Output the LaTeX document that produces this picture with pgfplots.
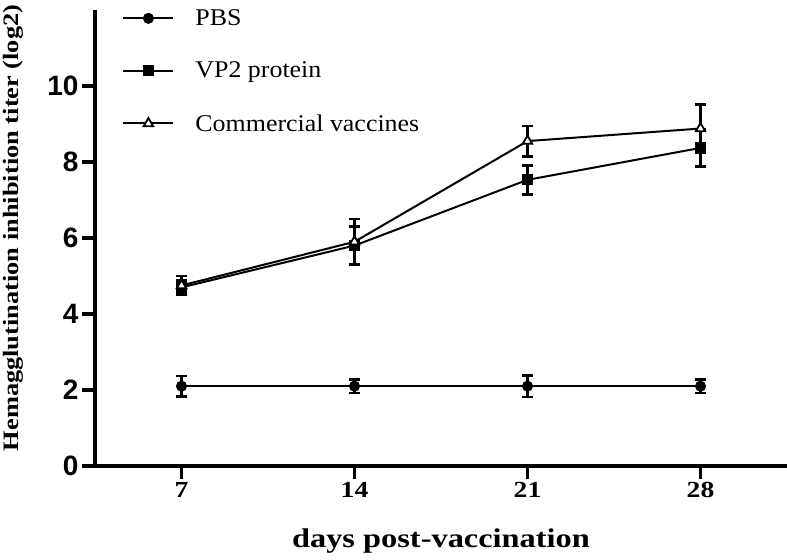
\documentclass[border=0pt]{standalone}
\usepackage{fontspec}
\setmainfont{Liberation Serif}
\setsansfont{Liberation Sans}
\newfontfamily\legfont[FakeStretch=1.08]{Liberation Serif}
\newfontfamily\labfont[FakeStretch=1.2]{Liberation Serif}
\usepackage{pgfplots}
\usepackage{pgfplotstable}
\pgfplotsset{compat=1.18}

% day, mean titer (log2), error
\pgfplotstableread{
x y e
7 2.10 0.27
14 2.10 0.18
21 2.10 0.28
28 2.10 0.18
}\pbs
\pgfplotstableread{
x y e
7 4.70 0.18
14 5.80 0.50
21 7.53 0.38
28 8.37 0.49
}\vptwo
\pgfplotstableread{
x y e
7 4.75 0.25
14 5.90 0.60
21 8.55 0.40
28 8.88 0.63
}\commercial

\begin{document}
\begin{tikzpicture}
\begin{axis}[
    scale only axis,
    width=692pt, height=456pt,
    xmin=3.5, xmax=31.5, ymin=0, ymax=12,
    axis x line*=bottom, axis y line*=left,
    axis line style={line width=4pt, black},
    xtick={7,14,21,28}, xticklabels={7,14,21,28},
    ytick={0,2,4,6,8,10}, yticklabels={0,2,4,6,8,10},
    tick align=outside, major tick length=13pt,
    tick style={line width=3.5pt, black},
    /pgf/number format/assume math mode=true,
    xticklabel style={font=\labfont\bfseries\fontsize{23}{23}\selectfont},
    yticklabel style={font=\sffamily\bfseries\fontsize{28}{28}\selectfont},
    xlabel={days post-vaccination},
    ylabel={Hemagglutination inhibition titer (log2)},
    xlabel style={font=\labfont\bfseries\fontsize{27}{27}\selectfont,
        at={(rel axis cs:0.5,-0.164)}, anchor=center},
    ylabel style={font=\labfont\bfseries\fontsize{22}{22}\selectfont,
        at={(rel axis cs:-0.118,0.522)}, anchor=center},
    every axis plot/.append style={line width=2pt, black},
    error bars/y dir=both, error bars/y explicit,
    error bars/error bar style={line width=2.5pt, black},
    error bars/error mark options={rotate=90, mark size=5.5pt, line width=2.5pt, black},
    legend image code/.code={
        \draw[mark repeat=2, mark phase=2, #1] plot coordinates {(0pt,0pt) (25pt,0pt) (50pt,0pt)};
        \path[draw=none, fill=none] (0pt,0pt) rectangle (70pt,0.1pt);
    },
    legend cell align=left,
    legend style={at={(rel axis cs:0.035,1.01)}, anchor=north west,
        draw=none, fill=none, font=\legfont\fontsize{24}{24}\selectfont,
        row sep=31pt},
    clip=false,
]
\addplot[mark=*, mark size=4.5pt, mark options={solid}]
    table[x=x, y=y, y error=e] {\pbs};
\addlegendentry{PBS}
\addplot[mark=square*, mark size=4.5pt, mark options={solid}]
    table[x=x, y=y, y error=e] {\vptwo};
\addlegendentry{VP2 protein}
\addplot[mark=triangle*, mark size=5.5pt, mark options={solid, fill=white, line width=1.8pt}]
    table[x=x, y=y, y error=e] {\commercial};
\addlegendentry{Commercial vaccines}
\coordinate (bbsw) at (rel axis cs:-0.1373,-0.2061);
\coordinate (bbne) at (rel axis cs:1,1.0219);
\end{axis}
\pgfresetboundingbox
\useasboundingbox (bbsw) rectangle (bbne);
\end{tikzpicture}
\end{document}
